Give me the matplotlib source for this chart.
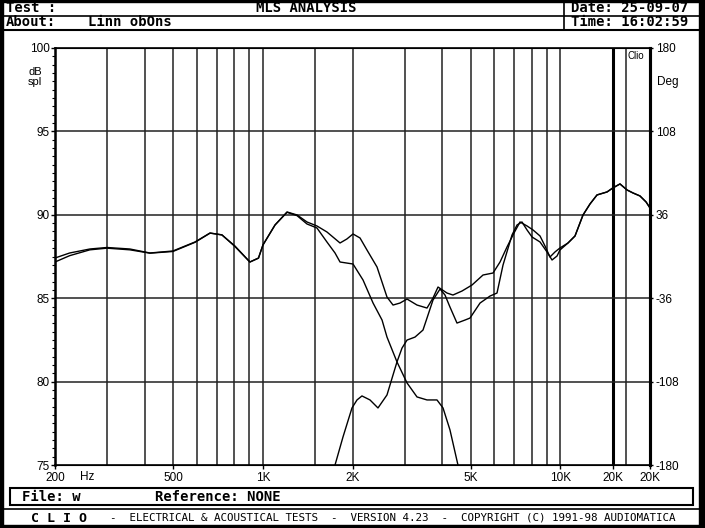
import matplotlib.pyplot as plt
from matplotlib.patches import Rectangle
import numpy as np

sum_freq = [200, 224, 262, 299, 357, 417, 498, 591, 664, 728, 805, 904, 966, 1000,
            1098, 1205, 1302, 1406, 1519, 1641, 1816, 1915, 2008, 2120, 2237, 2418,
            2612, 2737, 2889, 3050, 3295, 3560, 3729, 3877, 4156, 4352, 4667, 5043,
            5492, 5935, 6265, 6613, 6982, 7313, 7722, 8088, 8538, 8873, 9221, 9584,
            9961, 10602, 11193, 11910, 12572, 13272, 14343, 15000, 15855, 16738,
            17530, 18506, 19400, 20000]
sum_db = [87.41, 87.71, 87.95, 88.04, 87.95, 87.71, 87.83, 88.37, 88.91, 88.79,
          88.13, 87.17, 87.41, 88.19, 89.39, 90.17, 89.99, 89.57, 89.33, 88.97,
          88.31, 88.55, 88.85, 88.61, 87.89, 86.87, 85.07, 84.59, 84.71, 84.95,
          84.59, 84.41, 85.01, 85.67, 85.31, 85.19, 85.43, 85.79, 86.39, 86.51,
          87.17, 88.07, 88.91, 89.57, 89.33, 89.09, 88.73, 88.13, 87.47, 87.77,
          88.01, 88.31, 88.73, 89.99, 90.65, 91.19, 91.37, 91.61, 91.85, 91.49,
          91.31, 91.13, 90.77, 90.41]

woofer_freq = [200, 224, 262, 299, 357, 417, 498, 591, 664, 728, 805, 904, 966, 1000,
               1098, 1205, 1302, 1406, 1519, 1641, 1747, 1816, 2008, 2170, 2345,
               2514, 2612, 2822, 3050, 3295, 3560, 3846, 4030, 4253, 4524, 4700]
woofer_db = [87.17, 87.55, 87.90, 88.00, 87.90, 87.70, 87.80, 88.35, 88.90, 88.80,
             88.10, 87.17, 87.40, 88.19, 89.39, 90.15, 89.95, 89.45, 89.21, 88.37,
             87.71, 87.17, 87.05, 86.09, 84.71, 83.69, 82.67, 81.18, 79.92, 79.08,
             78.90, 78.90, 78.42, 77.10, 75.00, 73.50]

tweeter_freq = [1681, 1747, 1858, 1992, 2071, 2152, 2290, 2436, 2612, 2737, 2822,
                2934, 3050, 3245, 3451, 3560, 3729, 3938, 4092, 4253, 4490, 4777,
                4966, 5367, 5800, 6120, 6412, 6874, 7146, 7425, 7722, 8026, 8538,
                9015, 9370, 9740, 9961, 10602, 11193, 11910, 12572, 13272, 14343,
                15000, 15855, 16738, 17530, 18506, 19400, 20000]
tweeter_db = [74.10, 75.00, 76.68, 78.42, 78.90, 79.14, 78.90, 78.42, 79.20, 80.40,
              81.18, 82.01, 82.49, 82.67, 83.09, 83.81, 84.89, 85.55, 85.19, 84.47,
              83.51, 83.69, 83.81, 84.71, 85.13, 85.31, 86.99, 88.79, 89.39, 89.57,
              89.09, 88.67, 88.37, 87.77, 87.29, 87.53, 87.89, 88.31, 88.73, 89.99,
              90.65, 91.19, 91.37, 91.61, 91.85, 91.49, 91.31, 91.13, 90.77, 90.41]

# grid / ticks (CLIO draws its own odd grid)
grid_freq = [300, 400, 500, 600, 700, 800, 900, 1000, 1500, 2000, 3000, 4000, 5000,
             6000, 7000, 8000, 9000, 10000, 16600]
thick_freq = 15000
xtick_pos = [200, 500, 1000, 2000, 5000, 10000, 15000, 20000]
xtick_lbl = ["200", "500", "1K", "2K", "5K", "10K", "20K", "20K"]
db_ticks = [75, 80, 85, 90, 95, 100]
deg_ticks = [-180, -108, -36, 36, 108, 180]

W, H = 705, 528
fig = plt.figure(figsize=(W / 100, H / 100), dpi=100)
fig.patch.set_facecolor("white")

# frame overlay in pixel coords
bg = fig.add_axes([0, 0, 1, 1], zorder=0)
bg.set_xlim(0, W)
bg.set_ylim(H, 0)
bg.axis("off")
blk = "black"
bg.add_patch(Rectangle((0, 0), 3, H, color=blk))
bg.add_patch(Rectangle((699, 0), 6, H, color=blk))
bg.add_patch(Rectangle((0, 0), W, 2, color=blk))
bg.add_patch(Rectangle((0, 525), W, 3, color=blk))
bg.plot([3, 699], [15.5, 15.5], color=blk, lw=1.2)
bg.plot([3, 699], [29.5, 29.5], color=blk, lw=1.5)
bg.plot([563.5, 563.5], [2, 29.5], color=blk, lw=1.2)
bg.add_patch(Rectangle((10, 488), 683, 17, fill=False, ec=blk, lw=1.5))
bg.plot([3, 699], [509, 509], color=blk, lw=1.2)

mono = dict(family="DejaVu Sans Mono", fontweight="bold", fontsize=10, va="center")
bg.text(6, 8.5, "Test :", **mono)
bg.text(306, 8.5, "MLS ANALYSIS", ha="center", **mono)
bg.text(6, 22.5, "About:", **mono)
bg.text(88, 22.5, "Linn obOns", **mono)
bg.text(571, 8.5, "Date: 25-09-07", **mono)
bg.text(571, 22.5, "Time: 16:02:59", **mono)
bg.text(22, 497, "File: w", **mono)
bg.text(155, 497, "Reference: NONE", **mono)
bg.text(31, 518, "C L I O", family="DejaVu Sans Mono", fontweight="bold",
        fontsize=9.5, va="center")
bg.text(110, 518, "-  ELECTRICAL & ACOUSTICAL TESTS  -  VERSION 4.23  -  "
        "COPYRIGHT (C) 1991-98 AUDIOMATICA", family="DejaVu Sans Mono",
        fontsize=7.8, va="center")

# main plot
L, R, T, B = 55, 650, 48, 465
ax = fig.add_axes([L / W, 1 - B / H, (R - L) / W, (B - T) / H], zorder=1)
ax.set_facecolor("none")
ax.set_xscale("log")
ax.set_xlim(200, 20000)
ax.set_ylim(75, 100)

for f in grid_freq:
    ax.axvline(f, color="#222222", lw=1.1, zorder=1)
ax.axvline(thick_freq, color="black", lw=2.2, zorder=1)
for d in db_ticks[1:-1]:
    ax.axhline(d, color="#222222", lw=1.1, zorder=1)

ax.plot(sum_freq, sum_db, color="black", lw=1.0, zorder=3)
ax.plot(woofer_freq, woofer_db, color="black", lw=1.0, zorder=3)
ax.plot(tweeter_freq, tweeter_db, color="black", lw=1.0, zorder=3)

tick_font = dict(family="Liberation Sans", size=8.5)
ax.set_xticks(xtick_pos)
ax.set_xticklabels(xtick_lbl, fontdict=tick_font)
ax.xaxis.set_minor_locator(plt.NullLocator())
ax.tick_params(axis="x", direction="out", length=3, width=1, pad=2)
ax.set_yticks(db_ticks)
ax.set_yticklabels([str(d) for d in db_ticks], fontdict=tick_font)
ax.set_yticks(np.arange(75, 100.01, 0.5), minor=True)
ax.tick_params(axis="y", which="major", direction="out", length=3, width=1, pad=1)
ax.tick_params(axis="y", which="minor", direction="out", length=2, width=0.8)
for s in ["top", "bottom"]:
    ax.spines[s].set_linewidth(1.2)
ax.spines["left"].set_linewidth(1.8)
ax.spines["right"].set_linewidth(2.2)

ax2 = ax.twinx()
ax2.set_ylim(-180, 180)
ax2.set_yticks(deg_ticks)
ax2.set_yticklabels([str(d) for d in deg_ticks], fontdict=tick_font)
ax2.set_yticks(np.arange(-180, 180.1, 7.2), minor=True)
ax2.tick_params(axis="y", which="major", direction="out", length=2, width=1, pad=2)
ax2.tick_params(axis="y", which="minor", direction="inout", length=2, width=0.8)
ax2.spines["right"].set_linewidth(2.2)

bg.text(80, 477, "Hz", fontsize=8.5, family="Liberation Sans", va="center")
bg.text(35, 72, "dB", fontsize=8, family="Liberation Sans", va="center", ha="center")
bg.text(35, 82, "spl", fontsize=8, family="Liberation Sans", va="center", ha="center")
bg.text(668, 82, "Deg", fontsize=8.5, family="Liberation Sans", va="center", ha="center")
bg.text(636, 56, "Clio", fontsize=7, family="Liberation Sans", va="center", ha="center")

fig.savefig("out.png", dpi=100)
